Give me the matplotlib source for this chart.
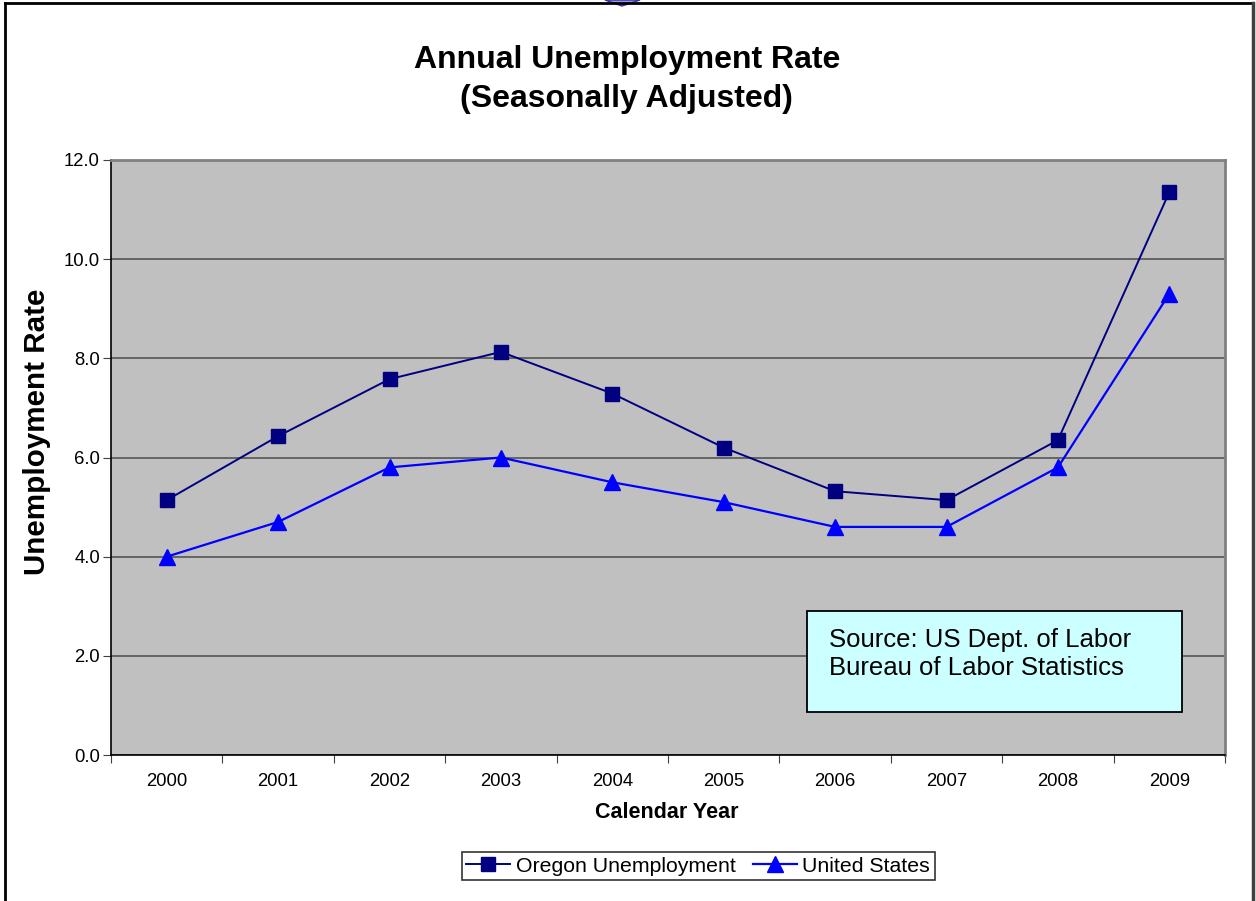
import matplotlib.pyplot as plt
import matplotlib.patches as mpatches
from matplotlib.lines import Line2D

plt.rcParams['font.family'] = ['Liberation Sans', 'DejaVu Sans']

years = ['2000', '2001', '2002', '2003', '2004', '2005', '2006', '2007', '2008', '2009']
oregon = [5.14, 6.43, 7.58, 8.13, 7.29, 6.2, 5.32, 5.14, 6.35, 11.35]
united_states = [4.0, 4.7, 5.8, 6.0, 5.5, 5.1, 4.6, 4.6, 5.8, 9.3]
y_ticks = [0, 2, 4, 6, 8, 10, 12]

fig = plt.figure(figsize=(12.56, 9.01), dpi=100)
ax = fig.add_axes([111 / 1256, 146 / 901, 1114 / 1256, 595 / 901])
ax.set_facecolor('#c0c0c0')

x = list(range(len(years)))
ax.plot(x, oregon, color='#000080', lw=1.4, marker='s', ms=10,
        label='Oregon Unemployment', zorder=4)
ax.plot(x, united_states, color='#0000ff', lw=1.6, marker='^', ms=11,
        label='United States', zorder=4)

ax.set_xlim(-0.5, len(years) - 0.5)
ax.set_ylim(0, 12)
ax.set_yticks(y_ticks)
ax.set_yticklabels([f'{v:.1f}' for v in y_ticks], fontsize=13.3)
ax.yaxis.grid(True, color='#555555', lw=1.2)
ax.set_axisbelow(True)

# category ticks sit between the years, labels centred on each year
ax.set_xticks([i - 0.5 for i in range(len(years) + 1)])
ax.set_xticklabels([''] * (len(years) + 1))
ax.set_xticks(x, minor=True)
ax.set_xticklabels(years, minor=True, fontsize=13.3)
ax.tick_params(axis='x', which='minor', length=0, pad=13)
ax.tick_params(axis='x', which='major', length=6, color='#404040')
ax.tick_params(axis='y', length=6, color='#404040', pad=2)

for side in ['top', 'right']:
    ax.spines[side].set_color('#808080')
    ax.spines[side].set_linewidth(2)
for side in ['left', 'bottom']:
    ax.spines[side].set_color('black')
    ax.spines[side].set_linewidth(1.2)

fig.text(667 / 1256, 1 - 813 / 901, 'Calendar Year', ha='center', va='center',
         fontsize=15.5, fontweight='bold')
fig.text(37 / 1256, 1 - 432 / 901, 'Unemployment Rate', ha='center', va='center',
         rotation=90, fontsize=21.3, fontweight='bold')

fig.text(0.499, 1 - 60 / 901, 'Annual Unemployment Rate', ha='center', va='center',
         fontsize=23, fontweight='bold')
fig.text(0.499, 1 - 99 / 901, '(Seasonally Adjusted)', ha='center', va='center',
         fontsize=23, fontweight='bold')

# source note box
src = mpatches.Rectangle((807 / 1256, 1 - 712 / 901), 375 / 1256, 101 / 901,
                         transform=fig.transFigure, facecolor='#ccffff',
                         edgecolor='black', lw=1.3, zorder=5)
fig.add_artist(src)
fig.text(829 / 1256, 1 - 654 / 901,
         'Source: US Dept. of Labor\nBureau of Labor Statistics',
         ha='left', va='center', fontsize=18.5, linespacing=1.2, zorder=6)

leg = fig.legend(loc='center', bbox_to_anchor=(698 / 1256, 1 - 866 / 901),
                 ncol=2, fontsize=15.3, frameon=True, fancybox=False,
                 handlelength=2.1, handletextpad=0.25, columnspacing=0.8,
                 borderpad=0.2, borderaxespad=0, edgecolor='black')
leg.get_frame().set_linewidth(1.2)

# outer chart border (open at the bottom)
fig.add_artist(Line2D([5 / 1256, 5 / 1256], [0, 1 - 3 / 901], color='black', lw=2,
                      transform=fig.transFigure))
fig.add_artist(Line2D([5 / 1256, 1253 / 1256], [1 - 3 / 901, 1 - 3 / 901], color='black',
                      lw=2, transform=fig.transFigure))
fig.add_artist(Line2D([1253 / 1256, 1253 / 1256], [0, 1 - 3 / 901], color='#404040', lw=2.5,
                      transform=fig.transFigure))

# small tab at the top edge
tab = mpatches.Polygon([(605 / 1256, 1.0), (640 / 1256, 1.0), (622 / 1256, 1 - 6 / 901)],
                       closed=True, transform=fig.transFigure, facecolor='#9999dd',
                       edgecolor='#333399', lw=1)
fig.add_artist(tab)

fig.savefig('out.png', dpi=100)
